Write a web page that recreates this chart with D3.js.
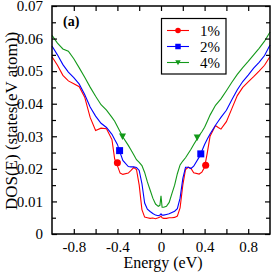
<!DOCTYPE html>
<html>
<head>
<meta charset="utf-8">
<script src="https://cdn.jsdelivr.net/npm/d3@7"></script>
<style>
  body { margin: 0; background: #fff; }
  svg { display: block; }
  svg text { font-family: "Liberation Serif", serif; }
</style>
</head>
<body>
<svg width="273" height="273"></svg>
<script>
// energy grid (eV), finer around the gap
var energy = [-1, -0.95, -0.9, -0.85, -0.8, -0.75, -0.7, -0.65, -0.6, -0.55, -0.5, -0.45,
  -0.425, -0.4, -0.375, -0.35,
  -0.3, -0.275, -0.25, -0.225, -0.2, -0.175, -0.15, -0.125, -0.1, -0.075, -0.05, -0.025, -0.01,
  0,
  0.01, 0.025, 0.05, 0.075, 0.1, 0.125, 0.15, 0.175, 0.2, 0.225, 0.25, 0.275, 0.3,
  0.35, 0.375, 0.4, 0.425, 0.45,
  0.5, 0.525, 0.55,
  0.6, 0.65, 0.7, 0.75, 0.8, 0.85, 0.9, 0.95, 1]

var dos1 = [0.0544, 0.0518, 0.0487, 0.0470, 0.0461, 0.0452, 0.0420, 0.0358, 0.0318, 0.0325, 0.0323, 0.0290,
  0.0230, 0.0210, 0.0187, 0.0183,
  0.0187, 0.0195, 0.0204, 0.0198, 0.0150, 0.0075, 0.0052, 0.0050, 0.0048, 0.0049, 0.0047, 0.0050, 0.0052,
  0.0055,
  0.0050, 0.0048, 0.0048, 0.0050, 0.0050, 0.0051, 0.0055, 0.0080, 0.0150, 0.0198, 0.0205, 0.0201, 0.0188,
  0.0184, 0.0190, 0.0205, 0.0250, 0.0300,
  0.0333, 0.0327, 0.0322,
  0.0345, 0.0385, 0.0425, 0.0450, 0.0467, 0.0483, 0.0500, 0.0518, 0.0545]

var dos2 = [0.0577, 0.0550, 0.0520, 0.0497, 0.0480, 0.0460, 0.0428, 0.0390, 0.0362, 0.0340, 0.0327, 0.0306,
  0.0290, 0.0275, 0.0250, 0.0226,
  0.0207, 0.0206, 0.0206, 0.0204, 0.0195, 0.0155, 0.0095, 0.0076, 0.0069, 0.0063, 0.0058, 0.0056, 0.0058,
  0.0062,
  0.0058, 0.0058, 0.0060, 0.0062, 0.0066, 0.0070, 0.0078, 0.0110, 0.0170, 0.0205, 0.0205, 0.0201, 0.0208,
  0.0236, 0.0255, 0.0275, 0.0292, 0.0307,
  0.0334, 0.0346, 0.0358,
  0.0380, 0.0412, 0.0443, 0.0468, 0.0488, 0.0509, 0.0527, 0.0548, 0.0580]

var dos4 = [0.0610, 0.0586, 0.0568, 0.0561, 0.0538, 0.0510, 0.0481, 0.0451, 0.0423, 0.0397, 0.0380, 0.0358,
  0.0346, 0.0330, 0.0314, 0.0298,
  0.0272, 0.0258, 0.0243, 0.0228, 0.0220, 0.0210, 0.0189, 0.0160, 0.0135, 0.0110, 0.0092, 0.0085, 0.0088,
  0.0117,
  0.0082, 0.0082, 0.0085, 0.0097, 0.0124, 0.0150, 0.0185, 0.0212, 0.0224, 0.0234, 0.0247, 0.0260, 0.0275,
  0.0302, 0.0314, 0.0328, 0.0346, 0.0365,
  0.0395, 0.0405, 0.0415,
  0.0440, 0.0466, 0.0490, 0.0511, 0.0530, 0.0550, 0.0570, 0.0592, 0.0620]

// symbol positions
var mark1E = [-0.40, 0.41], mark1V = [0.0219, 0.0211]
var mark2E = [-0.38, 0.365], mark2V = [0.0256, 0.0246]
var mark4E = [-0.353, 0.332], mark4V = [0.0299, 0.0296]

var seriesNames = ["1%", "2%", "4%"]
var xMajor = [-0.8, -0.4, 0, 0.4, 0.8]
var xMinor = [-0.6, -0.2, 0.2, 0.6]
var yMajor = [0, 0.01, 0.02, 0.03, 0.04, 0.05, 0.06, 0.07]
var yMinor = [0.005, 0.015, 0.025, 0.035, 0.045, 0.055, 0.065]

var series = [
  { name: seriesNames[0], vals: dos1, mE: mark1E, mV: mark1V, color: "#ff0000", sym: d3.symbolCircle },
  { name: seriesNames[1], vals: dos2, mE: mark2E, mV: mark2V, color: "#0000ff", sym: d3.symbolSquare },
  { name: seriesNames[2], vals: dos4, mE: mark4E, mV: mark4V, color: "#13991a", sym: "tri" }
]

var plotL = 52, plotR = 270, plotT = 6, plotB = 234
var serif = "Liberation Serif, serif"

var x = d3.scaleLinear().domain([-1, 1]).range([plotL, plotR])
var y = d3.scaleLinear().domain([0, 0.07]).range([plotB, plotT])

var svg = d3.select("svg")

function drawMarker(g, s, cx, cy, size) {
  if (s.sym === "tri") {
    var h = size
    g.append("path")
      .attr("d", "M" + (cx - h / 2) + "," + (cy - h / 2 + 0.5) + "L" + (cx + h / 2) + "," + (cy - h / 2 + 0.5) + "L" + cx + "," + (cy + h / 2) + "Z")
      .attr("fill", s.color)
  } else {
    var area = s.sym === d3.symbolCircle ? 0.8 * size * size : size * size
    g.append("path")
      .attr("d", d3.symbol().type(s.sym).size(area)())
      .attr("transform", "translate(" + cx + "," + cy + ")")
      .attr("fill", s.color)
  }
}

// curves
var line = d3.line()
  .x(function (d, i) { return x(energy[i]) })
  .y(function (d) { return y(d) })

var plot = svg.append("g")
series.forEach(function (s) {
  plot.append("path")
    .datum(s.vals)
    .attr("d", line)
    .attr("fill", "none")
    .attr("stroke", s.color)
    .attr("stroke-width", 1.1)
  s.mE.forEach(function (e, i) {
    drawMarker(plot, s, x(e), y(s.mV[i]), 7)
  })
})

// axes: ticks pointing inward on all four sides
function tickAxis(axis, transform) {
  var g = svg.append("g").attr("transform", transform).call(axis)
  g.attr("font-family", serif).attr("font-size", 15)
  g.select(".domain").remove()
  g.selectAll("line").attr("stroke", "#000").attr("stroke-width", 1.2)
  g.selectAll("text").attr("fill", "#000")
  return g
}

var fmt = function (d) { return d === 0 ? "0" : String(d) }

tickAxis(d3.axisBottom(x).tickValues(xMajor).tickSize(-5).tickPadding(7).tickFormat(fmt), "translate(0," + plotB + ")")
tickAxis(d3.axisBottom(x).tickValues(xMinor).tickSize(-5).tickFormat(""), "translate(0," + plotB + ")")
tickAxis(d3.axisTop(x).tickValues(xMajor.concat(xMinor)).tickSize(-5).tickFormat(""), "translate(0," + plotT + ")")

tickAxis(d3.axisLeft(y).tickValues(yMajor).tickSize(-5).tickPadding(9).tickFormat(fmt), "translate(" + plotL + ",0)")
tickAxis(d3.axisLeft(y).tickValues(yMinor).tickSize(-4).tickFormat(""), "translate(" + plotL + ",0)")
tickAxis(d3.axisRight(y).tickValues(yMajor).tickSize(-5).tickFormat(""), "translate(" + plotR + ",0)")
tickAxis(d3.axisRight(y).tickValues(yMinor).tickSize(-4).tickFormat(""), "translate(" + plotR + ",0)")

// frame
svg.append("rect")
  .attr("x", plotL).attr("y", plotT)
  .attr("width", plotR - plotL).attr("height", plotB - plotT)
  .attr("fill", "none").attr("stroke", "#000").attr("stroke-width", 1.5)

// axis titles
svg.append("text")
  .attr("x", (plotL + plotR) / 2 + 2).attr("y", 268)
  .attr("text-anchor", "middle")
  .attr("font-family", serif)
  .attr("font-size", 16)
  .text("Energy (eV)")

svg.append("text")
  .attr("transform", "translate(17," + ((plotT + plotB) / 2 + 1) + ") rotate(-90)")
  .attr("text-anchor", "middle")
  .attr("font-family", serif)
  .attr("font-size", 17)
  .text("DOS(E) (states(eV atom))")

svg.append("text")
  .attr("x", 63).attr("y", 26)
  .attr("font-family", serif)
  .attr("font-size", 14)
  .attr("font-weight", "bold")
  .text("(a)")

// legend
var lg = svg.append("g")
lg.append("rect")
  .attr("x", 161.5).attr("y", 18.5).attr("width", 64.5).attr("height", 55.5)
  .attr("fill", "#fff").attr("stroke", "#000").attr("stroke-width", 1.2)
var rows = [30.5, 46.5, 62.5]
series.forEach(function (s, i) {
  lg.append("line")
    .attr("x1", 167).attr("x2", 189)
    .attr("y1", rows[i]).attr("y2", rows[i])
    .attr("stroke", s.color).attr("stroke-width", 1.1)
  drawMarker(lg, s, 178, rows[i], 5.5)
  lg.append("text")
    .attr("x", 200).attr("y", rows[i] + 5)
    .attr("font-family", serif)
    .attr("font-size", 15)
    .text(s.name)
})
</script>
</body>
</html>
